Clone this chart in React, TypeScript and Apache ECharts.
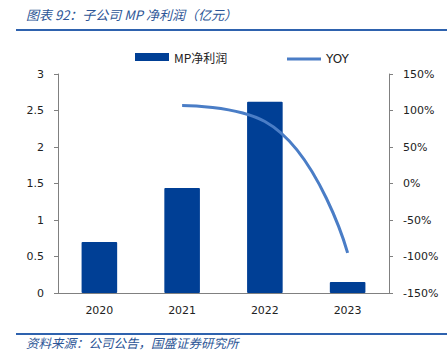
import React, { useEffect, useRef } from "react";
import * as echarts from "echarts";

const categories = ["2020", "2021", "2022", "2023"];
const profit = [0.7, 1.44, 2.62, 0.15];
const yoy = [null, 107, 85, -95];
const leftTicks = [0, 0.5, 1, 1.5, 2, 2.5, 3];
const rightTicks = [-150, -100, -50, 0, 50, 100, 150];

const titleText = "图表 92：子公司 MP 净利润（亿元）";
const sourceText = "资料来源：公司公告，国盛证券研究所";

const FONT = "'DejaVu Sans', Verdana, sans-serif";
const CJK = "'Noto Sans CJK SC', sans-serif";
const BLUE_TEXT = "#2C5596";
const BAR = "#003F95";
const LINE = "#4A7DC6";

export default function App() {
  const ref = useRef<HTMLDivElement>(null);
  useEffect(() => {
    if (!ref.current) return;
    const chart = echarts.init(ref.current, undefined, { renderer: "svg" });
    chart.setOption({
      animation: false,
      backgroundColor: "#fff",
      legend: [
        {
          top: 46,
          left: 130,
          itemWidth: 34,
          itemHeight: 8,
          itemGap: 4,
          textStyle: { fontFamily: CJK, fontSize: 12, color: "#222" },
          data: [{ name: "MP净利润", icon: "rect" }],
        },
        {
          top: 48,
          left: 282,
          itemWidth: 34,
          itemHeight: 3,
          textStyle: { fontFamily: FONT, fontSize: 12, color: "#222" },
          data: [{ name: "YOY", icon: "rect", itemStyle: { color: LINE } }],
        },
      ],
      grid: { left: 58, right: 58, top: 74, bottom: 71 },
      xAxis: {
        type: "category",
        data: categories,
        axisLine: { lineStyle: { color: "#808080" } },
        axisTick: { inside: true, length: 3, lineStyle: { color: "#808080" } },
        axisLabel: { fontFamily: FONT, fontSize: 11, color: "#222", margin: 12 },
      },
      yAxis: [
        {
          type: "value",
          min: leftTicks[0],
          max: leftTicks[leftTicks.length - 1],
          interval: 0.5,
          splitLine: { show: false },
          axisLine: { show: true, lineStyle: { color: "#808080" } },
          axisTick: { show: true, length: 4, lineStyle: { color: "#808080" } },
          axisLabel: { fontFamily: FONT, fontSize: 11, color: "#222", margin: 14 },
        },
        {
          type: "value",
          min: rightTicks[0],
          max: rightTicks[rightTicks.length - 1],
          interval: 50,
          splitLine: { show: false },
          axisLine: { show: true, lineStyle: { color: "#808080" } },
          axisTick: { show: true, length: 4, lineStyle: { color: "#808080" } },
          axisLabel: {
            fontFamily: FONT,
            fontSize: 11,
            color: "#222",
            margin: 14,
            formatter: (v: number) => v + "%",
          },
        },
      ],
      series: [
        {
          name: "MP净利润",
          type: "bar",
          data: profit,
          barWidth: "43%",
          itemStyle: { color: BAR, borderRadius: 1 },
        },
        {
          name: "YOY",
          type: "line",
          yAxisIndex: 1,
          data: yoy,
          smooth: 0.5,
          showSymbol: false,
          symbol: "none",
          lineStyle: { color: LINE, width: 3 },
          itemStyle: { color: LINE },
        },
      ],
      graphic: [
        {
          type: "text",
          left: 26,
          top: 8,
          style: {
            text: titleText,
            fontFamily: CJK,
            fontStyle: "italic",
            fontSize: 13,
            fill: BLUE_TEXT,
          },
        },
        {
          type: "line",
          shape: { x1: 16, y1: 30, x2: 447, y2: 30 },
          style: { stroke: "#2E62AE", lineWidth: 2 },
        },
        {
          type: "line",
          shape: { x1: 16, y1: 334, x2: 447, y2: 334 },
          style: { stroke: "#2E62AE", lineWidth: 2 },
        },
        {
          type: "text",
          left: 26,
          top: 336,
          style: {
            text: sourceText,
            fontFamily: CJK,
            fontStyle: "italic",
            fontSize: 12.5,
            fill: BLUE_TEXT,
          },
        },
      ],
    });
    return () => chart.dispose();
  }, []);
  return (
    <div
      ref={ref}
      style={{ position: "fixed", left: 0, top: 0, width: 447, height: 364 }}
    />
  );
}
